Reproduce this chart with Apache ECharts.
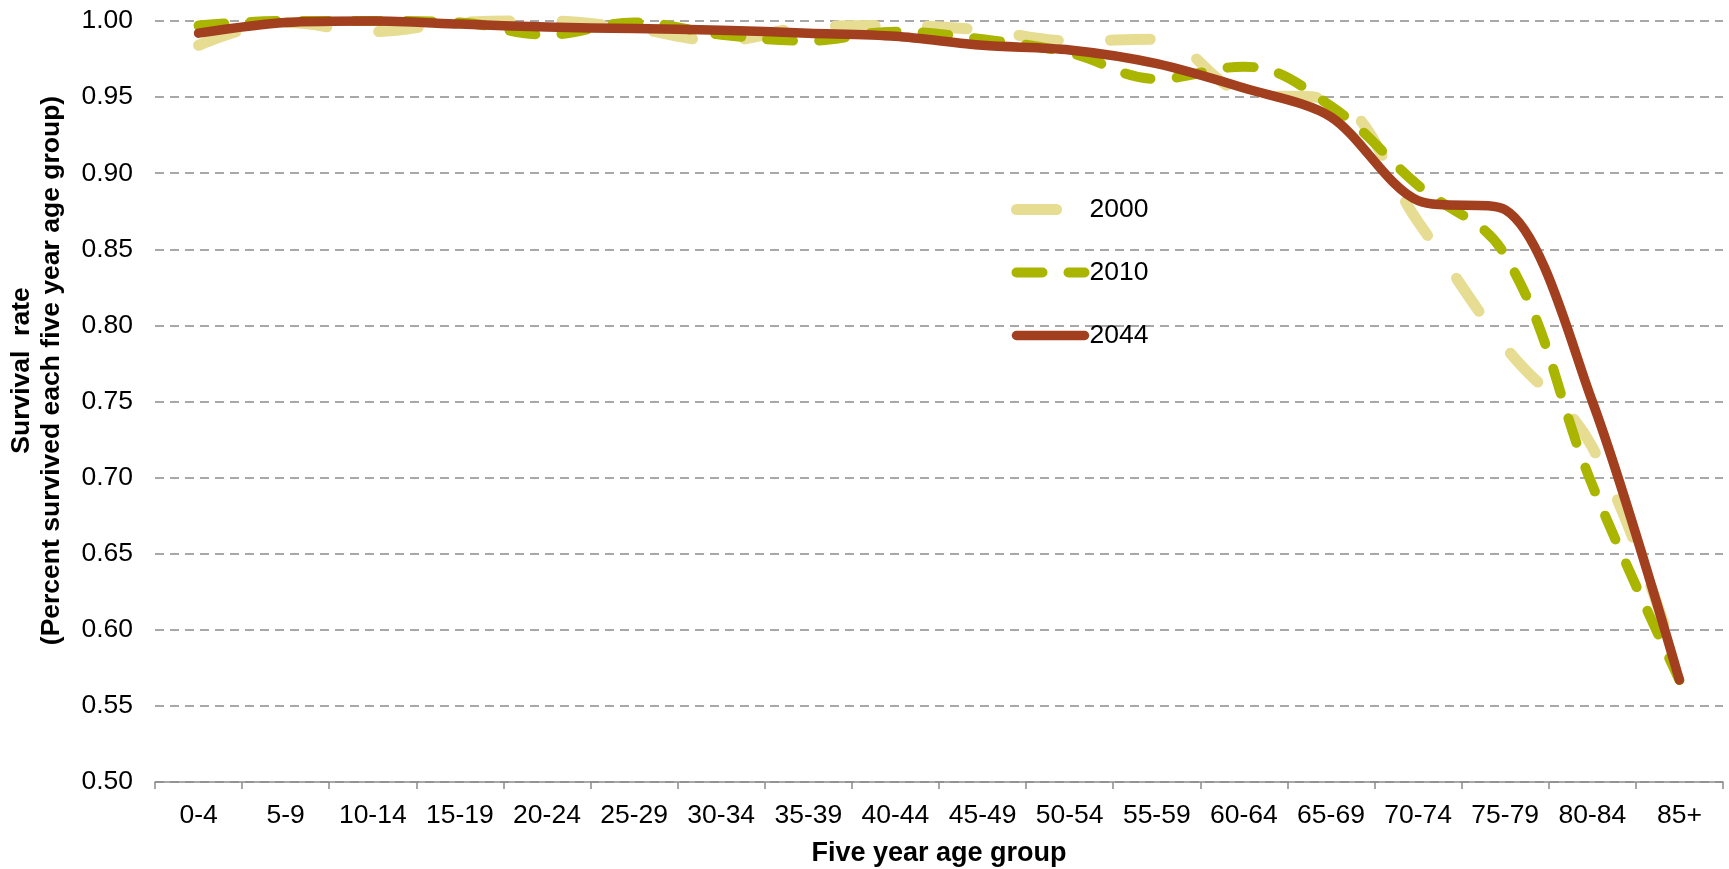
<!DOCTYPE html>
<html>
<head>
<meta charset="utf-8">
<script src="https://cdn.jsdelivr.net/npm/echarts@6/dist/echarts.min.js"></script>
<style>
  html, body { margin: 0; padding: 0; background: #fff; }
  #chart { width: 1729px; height: 869px; }
</style>
</head>
<body>
<div id="chart"></div>
<script>
// ---- data ----
const categories = ['0-4','5-9','10-14','15-19','20-24','25-29','30-34','35-39','40-44','45-49','50-54','55-59','60-64','65-69','70-74','75-79','80-84','85+'];
const seriesNames = ['2000', '2010', '2044'];
const values2000 = [0.984, 0.999, 0.993, 0.999, 1.000, 0.995, 0.987, 0.996, 0.997, 0.994, 0.987, 0.988, 0.953, 0.948, 0.868, 0.786, 0.720, 0.572];
const values2010 = [0.997, 1.000, 1.000, 0.999, 0.991, 0.999, 0.991, 0.987, 0.993, 0.988, 0.979, 0.962, 0.970, 0.944, 0.892, 0.846, 0.695, 0.567];
const values2044 = [0.992, 0.999, 1.000, 0.998, 0.996, 0.995, 0.994, 0.992, 0.990, 0.984, 0.981, 0.972, 0.956, 0.937, 0.882, 0.876, 0.750, 0.567];
const yTicks = { min: 0.5, max: 1.0, interval: 0.05 };

// ---- styles ----
const FONT = "'Liberation Sans', Arial, Helvetica, sans-serif";
const styles = {
  '2000': { color: '#E6DC92', width: 11, type: [40, 52], smooth: 0.4 },
  '2010': { color: '#AAB500', width: 10, type: [26, 26], smooth: 0.4 },
  '2044': { color: '#A23F1E', width: 9.5, type: 'solid', smooth: 0.3 }
};
const seriesData = { '2000': values2000, '2010': values2010, '2044': values2044 };

const chart = echarts.init(document.getElementById('chart'), null, { renderer: 'canvas' });

const option = {
  backgroundColor: '#ffffff',
  animation: false,
  textStyle: { fontFamily: FONT },
  grid: { left: 155, right: 6, top: 21, bottom: 87, containLabel: false, outerBoundsMode: 'none' },
  legend: {
    orient: 'vertical',
    left: 1006,
    top: 191,
    itemWidth: 68,
    itemHeight: 26,
    itemGap: 36,
    itemStyle: { opacity: 0 },
    textStyle: { fontSize: 26.5, color: '#000', fontFamily: FONT, lineHeight: 26 },
    data: seriesNames.map(n => ({
      name: n,
      lineStyle: { color: styles[n].color, width: styles[n].width, type: styles[n].type, cap: 'round' }
    }))
  },
  xAxis: {
    type: 'category',
    data: categories,
    boundaryGap: true,
    axisLine: { show: true, lineStyle: { color: '#8c8c8c', width: 1.5 } },
    axisTick: { show: true, length: 7, alignWithLabel: false, lineStyle: { color: '#8c8c8c', width: 1.5 } },
    axisLabel: { interval: 0, fontSize: 26.5, color: '#000', margin: 20, fontFamily: FONT },
    splitLine: { show: false },
    name: 'Five year age group',
    nameLocation: 'middle',
    nameGap: 58,
    nameTextStyle: { fontSize: 27, fontWeight: 'bold', color: '#000', fontFamily: FONT }
  },
  yAxis: {
    type: 'value',
    min: yTicks.min,
    max: yTicks.max,
    interval: yTicks.interval,
    axisLine: { show: false },
    axisTick: { show: false },
    axisLabel: { fontSize: 26.5, color: '#000', margin: 22, fontFamily: FONT, formatter: v => v.toFixed(2) },
    splitLine: { show: true, lineStyle: { color: '#8c8c8c', width: 1.5, type: [9, 6] } },
    name: 'Survival  rate\n(Percent survived each five year age group)',
    nameLocation: 'middle',
    nameRotate: 90,
    nameGap: 88,
    nameTextStyle: { fontSize: 26.5, fontWeight: 'bold', color: '#000', fontFamily: FONT, lineHeight: 30, padding: [0, 0, 0, 62] }
  },
  series: seriesNames.map(n => ({
    name: n,
    type: 'line',
    data: seriesData[n],
    smooth: styles[n].smooth,
    symbol: 'none',
    showSymbol: false,
    clip: false,
    lineStyle: { color: styles[n].color, width: styles[n].width, type: styles[n].type, cap: 'round', join: 'round' },
    itemStyle: { color: styles[n].color }
  }))
};

chart.setOption(option);
</script>
</body>
</html>
